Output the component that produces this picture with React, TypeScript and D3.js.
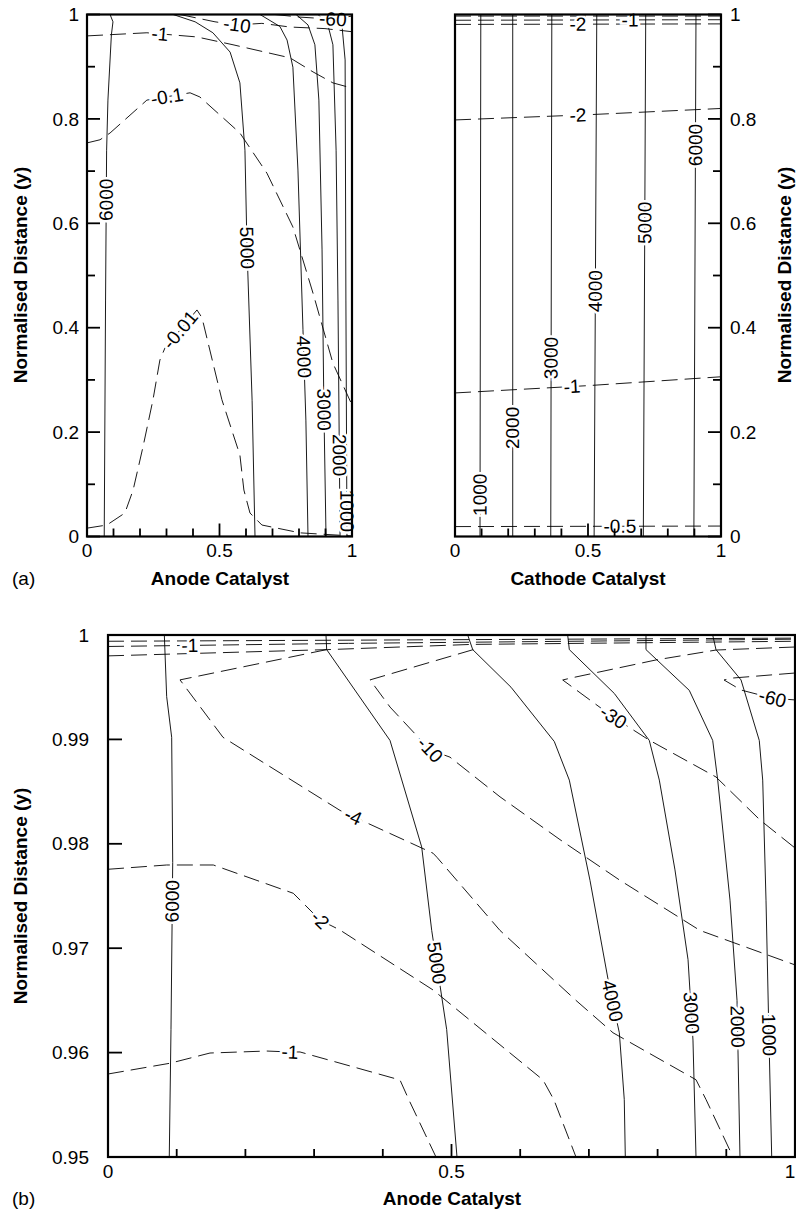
import React from 'react';
import * as d3 from 'd3';

type Pt = [number, number];

const FONT = '"Liberation Sans", Arial, Helvetica, sans-serif';

// ---------- (a) anode catalyst : solid contours ----------
const a6000: Pt[] = [[0.065, 0], [0.070, 0.453], [0.074, 0.740], [0.079, 0.836], [0.092, 0.961], [0.098, 0.986], [0.087, 1]];
const a5000: Pt[] = [[0.325, 1], [0.408, 0.986], [0.475, 0.965], [0.540, 0.928], [0.577, 0.869], [0.596, 0.740], [0.604, 0.549], [0.623, 0.261], [0.634, 0]];
const a4000: Pt[] = [[0.653, 1], [0.728, 0.977], [0.755, 0.951], [0.777, 0.899], [0.796, 0.702], [0.815, 0.396], [0.826, 0.223], [0.834, 0]];
const a3000: Pt[] = [[0.789, 1], [0.834, 0.980], [0.860, 0.942], [0.875, 0.836], [0.887, 0.549], [0.894, 0.243], [0.902, 0]];
const a2000: Pt[] = [[0.872, 1], [0.909, 0.980], [0.928, 0.942], [0.940, 0.740], [0.947, 0.453], [0.955, 0]];
const a1000: Pt[] = [[0.936, 1], [0.962, 0.980], [0.974, 0.913], [0.977, 0.453], [0.981, 0]];

// ---------- (a) anode catalyst : dashed contours ----------
const aM1: Pt[] = [[0, 0.959], [0.226, 0.965], [0.415, 0.957], [0.551, 0.942], [0.766, 0.917], [0.853, 0.890], [0.928, 0.869], [1, 0.859]];
const aM01: Pt[] = [[0, 0.754], [0.049, 0.760], [0.087, 0.773], [0.226, 0.836], [0.389, 0.850], [0.426, 0.842], [0.577, 0.773], [0.679, 0.696], [0.777, 0.593], [0.853, 0.466], [0.928, 0.332], [1, 0.252]];
const aM001: Pt[] = [[0, 0.016], [0.075, 0.022], [0.143, 0.045], [0.174, 0.089], [0.211, 0.171], [0.249, 0.262], [0.275, 0.338], [0.294, 0.361], [0.415, 0.434], [0.434, 0.419], [0.509, 0.262], [0.577, 0.156], [0.592, 0.089], [0.615, 0.045], [0.660, 0.022], [0.804, 0.007], [1, 0.001]];
const aM10: Pt[] = [[0.351, 1], [0.483, 0.986], [0.566, 0.980], [0.660, 0.983], [0.766, 0.976], [0.898, 0.973], [1, 0.967]];
const aM60: Pt[] = [[0.709, 1], [0.804, 0.995], [0.928, 0.991], [1, 0.997]];

// ---------- (a) cathode catalyst ----------
const c1000: Pt[] = [[0.094, 0], [0.097, 1]];
const c2000: Pt[] = [[0.217, 0], [0.217, 1]];
const c3000: Pt[] = [[0.360, 0], [0.364, 1]];
const c4000: Pt[] = [[0.523, 0], [0.533, 1]];
const c5000: Pt[] = [[0.708, 0], [0.717, 1]];
const c6000: Pt[] = [[0.898, 0], [0.906, 1]];
const cTop: Pt[] = [[0, 0.997], [1, 0.997]];
const cTopM1: Pt[] = [[0, 0.989], [1, 0.990]];
const cTopM2: Pt[] = [[0, 0.981], [1, 0.982]];
const cM2: Pt[] = [[0, 0.798], [0.5, 0.808], [1, 0.820]];
const cM1: Pt[] = [[0, 0.275], [0.5, 0.289], [1, 0.306]];
const cM05: Pt[] = [[0, 0.019], [1, 0.020]];

// ---------- (b) anode catalyst, close to the membrane ----------
const b6000: Pt[] = [[0.0892, 0.95], [0.0917, 0.9622], [0.0942, 0.9782], [0.0927, 0.9902], [0.0854, 0.9941], [0.0820, 1.0]];
const b5000: Pt[] = [[0.3173, 1.0], [0.3183, 0.9986], [0.4105, 0.9899], [0.4566, 0.9797], [0.4712, 0.9717], [0.4930, 0.9622], [0.5080, 0.95]];
const b4000: Pt[] = [[0.5236, 1.0], [0.5309, 0.9986], [0.5866, 0.9950], [0.6496, 0.9898], [0.6715, 0.9861], [0.7016, 0.9765], [0.7307, 0.9660], [0.7443, 0.9619], [0.7515, 0.9555], [0.7530, 0.95]];
const b3000: Pt[] = [[0.6691, 1.0], [0.6715, 0.9986], [0.7370, 0.9944], [0.7879, 0.9899], [0.8025, 0.9861], [0.8253, 0.9775], [0.8443, 0.9689], [0.8515, 0.9612], [0.8559, 0.95]];
const b2000: Pt[] = [[0.7831, 1.0], [0.7831, 0.9986], [0.8461, 0.9947], [0.8802, 0.9899], [0.8875, 0.9861], [0.9054, 0.9746], [0.9156, 0.9650], [0.9170, 0.9602], [0.9199, 0.95]];
const b1000: Pt[] = [[0.8802, 1.0], [0.8850, 0.9986], [0.9214, 0.9957], [0.9480, 0.9899], [0.9530, 0.9861], [0.9578, 0.9746], [0.9622, 0.9612], [0.9661, 0.95]];

const bTop1: Pt[] = [[0, 0.9994], [1, 0.9997]];
const bTopM1: Pt[] = [[0, 0.9989], [0.35, 0.9992], [1, 0.9996]];
const bTop3: Pt[] = [[0, 0.9980], [0.32, 0.9986], [0.53, 0.9991], [1, 0.9994]];
const bM4: Pt[] = [[0.3183, 0.9986], [0.1048, 0.9957], [0.1674, 0.9902], [0.3377, 0.9832], [0.3770, 0.9820], [0.4731, 0.9791], [0.4789, 0.9787], [0.5706, 0.9717], [0.6812, 0.9650], [0.7351, 0.9619], [0.8559, 0.9574], [0.8705, 0.9555], [0.9098, 0.95]];
const bM10: Pt[] = [[0.5317, 0.9986], [0.3814, 0.9957], [0.4105, 0.9931], [0.4687, 0.9890], [0.4978, 0.9883], [0.5706, 0.9845], [0.6579, 0.9804], [0.7453, 0.9765], [0.8617, 0.9717], [1.0, 0.9684]];
const bM30: Pt[] = [[1.0, 0.99885], [0.8850, 0.99856], [0.7977, 0.99761], [0.6739, 0.99588], [0.6619, 0.99569], [0.7351, 0.99215], [0.7875, 0.98994], [0.8850, 0.98640], [0.9491, 0.98228], [1.0, 0.97960]];
const bM60: Pt[] = [[1.0, 0.99636], [0.9098, 0.99588], [0.8967, 0.99569], [0.9214, 0.99473], [0.9675, 0.99394], [1.0, 0.99378]];
const bM2: Pt[] = [[0, 0.97756], [0.0854, 0.97797], [0.1533, 0.97797], [0.2697, 0.97526], [0.3086, 0.97270], [0.3377, 0.97174], [0.4731, 0.96600], [0.6332, 0.95738], [0.6492, 0.95546], [0.6812, 0.95]];
const bM1: Pt[] = [[0, 0.95795], [0.0902, 0.95898], [0.1485, 0.95996], [0.2310, 0.96015], [0.2649, 0.96006], [0.2795, 0.96006], [0.4250, 0.95738], [0.4381, 0.95546], [0.4774, 0.95]];

// contour labels: [text, contour, anchor]
type Lab = [string, Pt[], Pt];
const anodeLabels: Lab[] = [
  ['6000', a6000, [0.072, 0.645]], ['5000', a5000, [0.604, 0.553]], ['4000', a4000, [0.817, 0.344]],
  ['3000', a3000, [0.893, 0.243]], ['2000', a2000, [0.950, 0.156]], ['1000', a1000, [0.980, 0.049]],
  ['-1', aM1, [0.275, 0.959]], ['-0.1', aM01, [0.302, 0.842]], ['-0.01', aM001, [0.351, 0.396]],
  ['-10', aM10, [0.566, 0.980]], ['-60', aM60, [0.928, 0.991]],
];
const cathodeLabels: Lab[] = [
  ['1000', c1000, [0.095, 0.080]], ['2000', c2000, [0.217, 0.208]], ['3000', c3000, [0.362, 0.342]],
  ['4000', c4000, [0.528, 0.470]], ['5000', c5000, [0.713, 0.601]], ['6000', c6000, [0.903, 0.750]],
  ['-1', cTopM1, [0.658, 0.990]], ['-2', cTopM2, [0.462, 0.981]], ['-2', cM2, [0.462, 0.807]],
  ['-1', cM1, [0.440, 0.288]], ['-0.5', cM05, [0.620, 0.019]],
];
const zoomLabels: Lab[] = [
  ['6000', b6000, [0.093, 0.9745]], ['5000', b5000, [0.480, 0.9686]], ['4000', b4000, [0.736, 0.9650]],
  ['3000', b3000, [0.848, 0.9638]], ['2000', b2000, [0.916, 0.9625]], ['1000', b1000, [0.962, 0.9617]],
  ['-1', bTopM1, [0.119, 0.9990]], ['-4', bM4, [0.3566, 0.9826]], ['-10', bM10, [0.4687, 0.9890]],
  ['-30', bM30, [0.7351, 0.9921]], ['-60', bM60, [0.9675, 0.9940]], ['-2', bM2, [0.3086, 0.9727]],
  ['-1', bM1, [0.2649, 0.9601]],
];

// ticks
const unitMajor = [0, 0.5, 1];
const unitMinor = [0.1, 0.2, 0.3, 0.4, 0.6, 0.7, 0.8, 0.9];
const unitYMajor = [0, 0.2, 0.4, 0.6, 0.8, 1];
const unitYMinor = [0.1, 0.3, 0.5, 0.7, 0.9];
const zoomYMajor = [0.95, 0.96, 0.97, 0.98, 0.99, 1];
const fmt = (v: number) => String(+v.toFixed(2));

type S = d3.ScaleLinear<number, number>;

function placeLabel(pts: Pt[], at: Pt, x: S, y: S) {
  const ax = x(at[0]), ay = y(at[1]);
  let best = { d: Infinity, px: ax, py: ay, ang: 0 };
  for (let i = 0; i < pts.length - 1; i++) {
    const x1 = x(pts[i][0]), y1 = y(pts[i][1]), x2 = x(pts[i + 1][0]), y2 = y(pts[i + 1][1]);
    const dx = x2 - x1, dy = y2 - y1, L = dx * dx + dy * dy;
    let t = L ? ((ax - x1) * dx + (ay - y1) * dy) / L : 0;
    t = Math.max(0, Math.min(1, t));
    const px = x1 + t * dx, py = y1 + t * dy, d = (px - ax) ** 2 + (py - ay) ** 2;
    if (d < best.d) best = { d, px, py, ang: (Math.atan2(dy, dx) * 180) / Math.PI };
  }
  return best;
}

const Panel = ({ id, x, y, solid, dashed, labels }: { id: string; x: S; y: S; solid: Pt[][]; dashed: Pt[][]; labels: Lab[] }) => {
  const line = d3.line<Pt>().x((d) => x(d[0])).y((d) => y(d[1]));
  const [x0, x1] = x.range();
  const [y0, y1] = y.range();
  return (
    <g>
      <clipPath id={id}>
        <rect x={x0} y={y1} width={x1 - x0} height={y0 - y1} />
      </clipPath>
      <g clipPath={`url(#${id})`} fill="none" stroke="#000" strokeWidth={0.9}>
        {solid.map((p, i) => <path key={'s' + i} d={line(p) || ''} />)}
        {dashed.map((p, i) => <path key={'d' + i} d={line(p) || ''} strokeDasharray="16 7" />)}
      </g>
      {labels.map(([t, p, at], i) => {
        const l = placeLabel(p, at, x, y);
        return (
          <text key={i} x={l.px} y={l.py} transform={`rotate(${l.ang} ${l.px} ${l.py})`} textAnchor="middle"
            dominantBaseline="central" fontSize={19} fontFamily={FONT} fill="#000" stroke="#fff" strokeWidth={5}
            paintOrder="stroke">{t}</text>
        );
      })}
      <rect x={x0} y={y1} width={x1 - x0} height={y0 - y1} fill="none" stroke="#000" strokeWidth={2.2} />
    </g>
  );
};

const App = () => {
  const ya = d3.scaleLinear().domain([0, 1]).range([536.5, 14.5]);
  const xa = d3.scaleLinear().domain([0, 1]).range([87, 352]);
  const xc = d3.scaleLinear().domain([0, 1]).range([455, 721]);
  const xb = d3.scaleLinear().domain([0, 1]).range([108, 795]);
  const yb = d3.scaleLinear().domain([0.95, 1]).range([1157, 635]);

  const tickStyle = { stroke: '#000', strokeWidth: 1.8 };
  const txt = { fontFamily: FONT, fontSize: 19, fill: '#000' } as const;

  const xAxis = (x: S, yBase: number, labY: number) => (
    <g>
      {unitMinor.map((v) => <line key={'m' + v} x1={x(v)} x2={x(v)} y1={yBase} y2={yBase - 8} {...tickStyle} />)}
      {unitMajor.map((v) => <line key={'M' + v} x1={x(v)} x2={x(v)} y1={yBase} y2={yBase - 13} {...tickStyle} />)}
      {unitMajor.map((v) => (
        <text key={'t' + v} x={Math.min(x(v), 790)} y={labY} textAnchor="middle" {...txt}>{fmt(v)}</text>
      ))}
    </g>
  );

  return (
    <svg width={796} height={1212} style={{ position: 'absolute', left: 0, top: 0, background: '#fff' }}>
      <rect width={796} height={1212} fill="#fff" />

      {/* (a) anode */}
      <Panel id="ca" x={xa} y={ya} solid={[a6000, a5000, a4000, a3000, a2000, a1000]}
        dashed={[aM1, aM01, aM001, aM10, aM60]} labels={anodeLabels} />
      {unitYMinor.map((v) => <line key={'aym' + v} x1={87} x2={95} y1={ya(v)} y2={ya(v)} {...tickStyle} />)}
      {unitYMajor.map((v) => <line key={'ayM' + v} x1={87} x2={100} y1={ya(v)} y2={ya(v)} {...tickStyle} />)}
      {unitYMajor.map((v) => <text key={'ayt' + v} x={79} y={ya(v)} dy="0.35em" textAnchor="end" {...txt}>{fmt(v)}</text>)}
      {xAxis(xa, 536.5, 557)}
      <text x={220} y={585} textAnchor="middle" fontWeight="bold" {...txt}>Anode Catalyst</text>
      <text x={12} y={585} {...txt}>(a)</text>
      <text transform="translate(27,275) rotate(-90)" textAnchor="middle" fontWeight="bold" {...txt}>Normalised Distance (y)</text>

      {/* (a) cathode */}
      <Panel id="cc" x={xc} y={ya} solid={[c1000, c2000, c3000, c4000, c5000, c6000]}
        dashed={[cTop, cTopM1, cTopM2, cM2, cM1, cM05]} labels={cathodeLabels} />
      {unitYMinor.map((v) => <line key={'cym' + v} x1={721} x2={713} y1={ya(v)} y2={ya(v)} {...tickStyle} />)}
      {unitYMajor.map((v) => <line key={'cyM' + v} x1={721} x2={708} y1={ya(v)} y2={ya(v)} {...tickStyle} />)}
      {unitYMajor.map((v) => <text key={'cyt' + v} x={730} y={ya(v)} dy="0.35em" textAnchor="start" {...txt}>{fmt(v)}</text>)}
      {xAxis(xc, 536.5, 557)}
      <text x={588} y={585} textAnchor="middle" fontWeight="bold" {...txt}>Cathode Catalyst</text>
      <text transform="translate(791,275) rotate(-90)" textAnchor="middle" fontWeight="bold" {...txt}>Normalised Distance (y)</text>

      {/* (b) zoom near y = 1 */}
      <Panel id="cb" x={xb} y={yb} solid={[b6000, b5000, b4000, b3000, b2000, b1000]}
        dashed={[bTop1, bTopM1, bTop3, bM4, bM10, bM30, bM60, bM2, bM1]} labels={zoomLabels} />
      {zoomYMajor.map((v) => <line key={'byM' + v} x1={108} x2={122} y1={yb(v)} y2={yb(v)} {...tickStyle} />)}
      {zoomYMajor.map((v) => <text key={'byt' + v} x={89} y={yb(v)} dy="0.35em" textAnchor="end" {...txt}>{fmt(v)}</text>)}
      {xAxis(xb, 1157, 1178)}
      <text x={452} y={1205} textAnchor="middle" fontWeight="bold" {...txt}>Anode Catalyst</text>
      <text x={12} y={1205} {...txt}>(b)</text>
      <text transform="translate(27,896) rotate(-90)" textAnchor="middle" fontWeight="bold" {...txt}>Normalised Distance (y)</text>
    </svg>
  );
};

export default App;
